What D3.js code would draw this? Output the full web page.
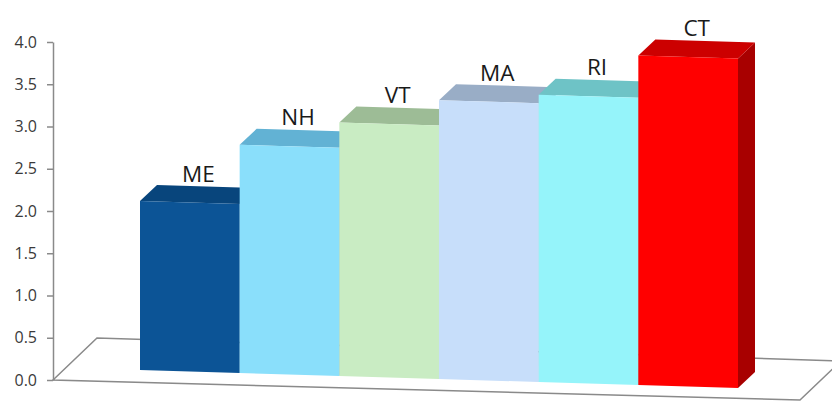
<!DOCTYPE html>
<html>
<head>
<meta charset="utf-8">
<script src="https://cdn.jsdelivr.net/npm/d3@7"></script>
<style>
	body { margin: 0; background: #fff; }
	svg { display: block; }
	.label { font-family: "Open Sans", sans-serif; font-size: 22.5px; fill: #1a1a1a; }
</style>
</head>
<body>
<script>
// data
const states = ["ME", "NH", "VT", "MA", "RI", "CT"];
const values = [2.0, 2.7, 3.0, 3.3, 3.4, 3.9];
const tickValues = [0, 0.5, 1.0, 1.5, 2.0, 2.5, 3.0, 3.5, 4.0];

const frontColors = ["#0c5496", "#8adffb", "#c9ecc3", "#c7defa", "#95f4fa", "#ff0000"];
const topColors = ["#08457c", "#62b2d4", "#9dbc96", "#99adc6", "#6ec3c6", "#cc0000"];
const sideColors = ["#063a69", "#4f9fc0", "#86a67f", "#8598ae", "#58aeb1", "#a80000"];

function dataV() {
	let width = 832,
		height = 401;

	// value axis sits at the front left corner of the floor
	let axisX = 53;
	let y = d3.scaleLinear().domain([0, 4]).range([380, 42]);

	// bar height in pixels
	let h = d3.scaleLinear().domain([0, 4]).range([0, y(0) - y(4)]);

	// categories along the front plane
	let x = d3.scaleBand().domain(states).range([140, 738]).padding(0);

	// the bars' baseline leans down to the right (perspective)
	let base = d3.scaleLinear().domain([140, 738]).range([370, 388]);

	// depth offset of the bars
	let dx = 17,
		dy = -16;

	let svg = d3
		.select("body")
		.append("svg")
		.attr("width", width)
		.attr("height", height);

	// floor
	let floor = [
		[axisX, y(0)],
		[axisX + 44, y(0) - 42],
		[841, 361],
		[800, 400],
	];
	svg
		.append("path")
		.attr("d", "M" + floor.join("L") + "Z")
		.attr("fill", "#fff")
		.attr("stroke", "#8a8a8a")
		.attr("stroke-width", 1.5);

	// y axis
	let yAxis = svg
		.append("g")
		.attr("transform", "translate(" + axisX + ",0)")
		.call(
			d3.axisLeft(y)
				.tickValues(tickValues)
				.tickFormat(d3.format(".1f"))
				.tickSize(6)
				.tickSizeOuter(0)
				.tickPadding(10),
		);
	yAxis.select(".domain").attr("stroke", "#8a8a8a").attr("stroke-width", 1.5);
	yAxis.selectAll(".tick line").attr("stroke", "#8a8a8a").attr("stroke-width", 1.5);
	yAxis
		.selectAll(".tick text")
		.attr("font-family", "'Open Sans', sans-serif")
		.attr("font-size", 16)
		.attr("fill", "#3a3a3a");

	// bars, drawn left to right so each hides the side of the one before
	let data = states.map((s, i) => ({ state: s, value: values[i], i: i }));

	let pt = (px, py) => px + "," + py;

	let bars = svg
		.selectAll(".bar")
		.data(data)
		.enter()
		.append("g")
		.attr("class", "bar");

	bars.each(function (d) {
		let g = d3.select(this);
		let x0 = x(d.state),
			x1 = x0 + x.bandwidth();
		let b0 = base(x0),
			b1 = base(x1);
		let t0 = b0 - h(d.value),
			t1 = b1 - h(d.value);

		// right side
		g.append("polygon")
			.attr("points", [pt(x1, b1), pt(x1, t1), pt(x1 + dx, t1 + dy), pt(x1 + dx, b1 + dy)].join(" "))
			.attr("fill", sideColors[d.i]);

		// top
		g.append("polygon")
			.attr("points", [pt(x0, t0), pt(x1, t1), pt(x1 + dx, t1 + dy), pt(x0 + dx, t0 + dy)].join(" "))
			.attr("fill", topColors[d.i]);

		// front
		g.append("polygon")
			.attr("points", [pt(x0, b0), pt(x0, t0), pt(x1, t1), pt(x1, b1)].join(" "))
			.attr("fill", frontColors[d.i]);

		// label above the bar
		g.append("text")
			.attr("class", "label")
			.attr("x", x0 + x.bandwidth() / 2 + dx / 2)
			.attr("y", (t0 + t1) / 2 + dy - 5)
			.attr("text-anchor", "middle")
			.text(d.state);
	});
}

window.addEventListener("load", dataV);
</script>
</body>
</html>
